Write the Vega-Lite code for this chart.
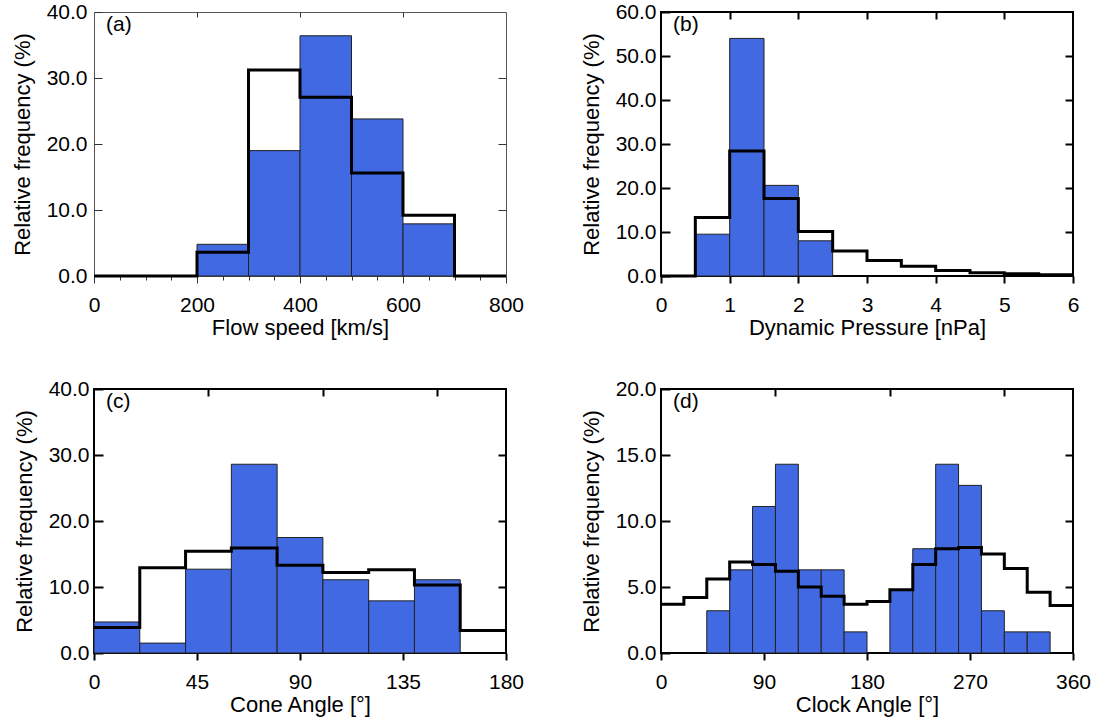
{
  "$schema": "https://vega.github.io/schema/vega-lite/v6.json",
  "padding": {"left": 10, "top": 0, "right": 5, "bottom": 5},
  "background": "white",
  "datasets": {
    "a_bars": [
      {"lo": 200, "hi": 300, "freq": 4.8},
      {"lo": 300, "hi": 400, "freq": 19.0},
      {"lo": 400, "hi": 500, "freq": 36.4},
      {"lo": 500, "hi": 600, "freq": 23.8},
      {"lo": 600, "hi": 700, "freq": 7.9}
    ],
    "a_step": [
      {"edge": 0, "freq": 0},
      {"edge": 100, "freq": 0},
      {"edge": 200, "freq": 3.6},
      {"edge": 300, "freq": 31.2},
      {"edge": 400, "freq": 27.1},
      {"edge": 500, "freq": 15.6},
      {"edge": 600, "freq": 9.2},
      {"edge": 700, "freq": 0},
      {"edge": 800, "freq": 0}
    ],
    "b_bars": [
      {"lo": 0.5, "hi": 1.0, "freq": 9.5},
      {"lo": 1.0, "hi": 1.5, "freq": 54.0},
      {"lo": 1.5, "hi": 2.0, "freq": 20.6},
      {"lo": 2.0, "hi": 2.5, "freq": 8.0}
    ],
    "b_step": [
      {"edge": 0, "freq": 0},
      {"edge": 0.5, "freq": 13.3},
      {"edge": 1.0, "freq": 28.4},
      {"edge": 1.5, "freq": 17.6},
      {"edge": 2.0, "freq": 10.1},
      {"edge": 2.5, "freq": 5.7},
      {"edge": 3.0, "freq": 3.5},
      {"edge": 3.5, "freq": 2.2},
      {"edge": 4.0, "freq": 1.25},
      {"edge": 4.5, "freq": 0.75},
      {"edge": 5.0, "freq": 0.5},
      {"edge": 5.5, "freq": 0.3},
      {"edge": 6.0, "freq": 0.3}
    ],
    "c_bars": [
      {"lo": 0, "hi": 20, "freq": 4.7},
      {"lo": 20, "hi": 40, "freq": 1.5},
      {"lo": 40, "hi": 60, "freq": 12.7},
      {"lo": 60, "hi": 80, "freq": 28.6},
      {"lo": 80, "hi": 100, "freq": 17.5},
      {"lo": 100, "hi": 120, "freq": 11.1},
      {"lo": 120, "hi": 140, "freq": 7.9},
      {"lo": 140, "hi": 160, "freq": 11.1}
    ],
    "c_step": [
      {"edge": 0, "freq": 3.85},
      {"edge": 20, "freq": 12.9},
      {"edge": 40, "freq": 15.4},
      {"edge": 60, "freq": 15.9},
      {"edge": 80, "freq": 13.3},
      {"edge": 100, "freq": 12.2},
      {"edge": 120, "freq": 12.6},
      {"edge": 140, "freq": 10.3},
      {"edge": 160, "freq": 3.4},
      {"edge": 180, "freq": 3.4}
    ],
    "d_bars": [
      {"lo": 40, "hi": 60, "freq": 3.2},
      {"lo": 60, "hi": 80, "freq": 6.3},
      {"lo": 80, "hi": 100, "freq": 11.1},
      {"lo": 100, "hi": 120, "freq": 14.3},
      {"lo": 120, "hi": 140, "freq": 6.3},
      {"lo": 140, "hi": 160, "freq": 6.3},
      {"lo": 160, "hi": 180, "freq": 1.6},
      {"lo": 200, "hi": 220, "freq": 4.8},
      {"lo": 220, "hi": 240, "freq": 7.9},
      {"lo": 240, "hi": 260, "freq": 14.3},
      {"lo": 260, "hi": 280, "freq": 12.7},
      {"lo": 280, "hi": 300, "freq": 3.2},
      {"lo": 300, "hi": 320, "freq": 1.6},
      {"lo": 320, "hi": 340, "freq": 1.6}
    ],
    "d_step": [
      {"edge": 0, "freq": 3.7},
      {"edge": 20, "freq": 4.2},
      {"edge": 40, "freq": 5.6},
      {"edge": 60, "freq": 6.9},
      {"edge": 80, "freq": 6.7},
      {"edge": 100, "freq": 6.2},
      {"edge": 120, "freq": 5.0},
      {"edge": 140, "freq": 4.3},
      {"edge": 160, "freq": 3.7},
      {"edge": 180, "freq": 3.9},
      {"edge": 200, "freq": 4.8},
      {"edge": 220, "freq": 6.7},
      {"edge": 240, "freq": 7.9},
      {"edge": 260, "freq": 8.0},
      {"edge": 280, "freq": 7.5},
      {"edge": 300, "freq": 6.4},
      {"edge": 320, "freq": 4.6},
      {"edge": 340, "freq": 3.6},
      {"edge": 360, "freq": 3.6}
    ]
  },
  "columns": 2,
  "spacing": {"row": 38, "column": 54},
  "concat": [
    {
      "width": 412, "height": 264,
      "view": {"stroke": "#555", "strokeWidth": 1},
      "title": {"text": "(a)", "anchor": "start", "frame": "group", "orient": "top", "offset": -51, "dx": 12, "fontSize": 21, "fontWeight": "normal", "font": "Liberation Sans", "baseline": "alphabetic", "color": "black"},
      "layer": [
        {
          "data": {"name": "a_bars"},
          "mark": {"type": "bar", "fill": "#4169E1", "stroke": "#222", "strokeWidth": 1},
          "encoding": {
            "x": {"field": "lo", "type": "quantitative", "scale": {"domain": [0, 800], "nice": false, "zero": false},
              "axis": {"orient": "bottom", "title": "Flow speed [km/s]", "values": [0,50,100,150,200,250,300,350,400,450,500,550,600,650,700,750,800], "format": "d", "labelExpr": "datum.value % 200 === 0 ? datum.label : ''", "tickSize": {"condition": {"test": "datum.value % 200 === 0", "value": 7}, "value": 4}, "tickColor": "#333", "tickWidth": 1, "labelPadding": 11, "titlePadding": 2, "labelFlush": false, "labelOverlap": false}},
            "x2": {"field": "hi"},
            "y": {"field": "freq", "type": "quantitative", "scale": {"domain": [0, 40], "nice": false},
              "axis": {"orient": "left", "title": "Relative frequency (%)", "values": [0,10,20,30,40], "format": ".1f", "tickSize": -8, "tickColor": "#333", "tickWidth": 1, "labelPadding": 15, "titlePadding": 12}},
            "y2": {"datum": 0}
          }
        },
        {
          "data": {"name": "a_step"},
          "mark": {"type": "line", "interpolate": "step-after", "stroke": "black", "strokeWidth": 3},
          "encoding": {
            "x": {"field": "edge", "type": "quantitative", "axis": {"orient": "top", "title": null, "values": [200,400,600], "labels": false, "tickSize": -5, "tickColor": "#333", "tickWidth": 1}},
            "y": {"field": "freq", "type": "quantitative", "axis": {"orient": "right", "title": null, "values": [10,20,30], "labels": false, "tickSize": -8, "tickColor": "#333", "tickWidth": 1}}
          }
        }
      ],
      "resolve": {"axis": {"x": "independent", "y": "independent"}}
    },
    {
      "width": 412, "height": 264,
      "view": {"stroke": "black", "strokeWidth": 2},
      "title": {"text": "(b)", "anchor": "start", "frame": "group", "orient": "top", "offset": -51, "dx": 12, "fontSize": 21, "fontWeight": "normal", "font": "Liberation Sans", "baseline": "alphabetic", "color": "black"},
      "layer": [
        {
          "data": {"name": "b_bars"},
          "mark": {"type": "bar", "fill": "#4169E1", "stroke": "#222", "strokeWidth": 1},
          "encoding": {
            "x": {"field": "lo", "type": "quantitative", "scale": {"domain": [0, 6], "nice": false, "zero": false},
              "axis": {"orient": "bottom", "title": "Dynamic Pressure [nPa]", "values": [0,0.0625,0.125,0.1875,0.25,0.3125,0.375,0.4375,0.5,0.5625,0.625,0.6875,0.75,0.8125,0.875,0.9375,1,1.0625,1.125,1.1875,1.25,1.3125,1.375,1.4375,1.5,1.5625,1.625,1.6875,1.75,1.8125,1.875,1.9375,2,2.0625,2.125,2.1875,2.25,2.3125,2.375,2.4375,2.5,2.5625,2.625,2.6875,2.75,2.8125,2.875,2.9375,3,3.0625,3.125,3.1875,3.25,3.3125,3.375,3.4375,3.5,3.5625,3.625,3.6875,3.75,3.8125,3.875,3.9375,4,4.0625,4.125,4.1875,4.25,4.3125,4.375,4.4375,4.5,4.5625,4.625,4.6875,4.75,4.8125,4.875,4.9375,5,5.0625,5.125,5.1875,5.25,5.3125,5.375,5.4375,5.5,5.5625,5.625,5.6875,5.75,5.8125,5.875,5.9375,6], "format": "d", "labelExpr": "datum.value % 1 === 0 ? datum.label : ''", "tickSize": 7, "tickDash": {"condition": {"test": "datum.value % 1 === 0", "value": [7, 0]}, "value": [0, 4, 2.5, 20]}, "tickColor": "black", "tickWidth": {"condition": {"test": "datum.value % 1 === 0", "value": 2}, "value": 2.6}, "labelPadding": 11, "titlePadding": 2, "labelFlush": false, "labelOverlap": false}},
            "x2": {"field": "hi"},
            "y": {"field": "freq", "type": "quantitative", "scale": {"domain": [0, 60], "nice": false},
              "axis": {"orient": "left", "title": "Relative frequency (%)", "values": [0,10,20,30,40,50,60], "format": ".1f", "tickSize": -9, "tickColor": "black", "tickWidth": 2, "labelPadding": 14, "titlePadding": 12}},
            "y2": {"datum": 0}
          }
        },
        {
          "data": {"name": "b_step"},
          "mark": {"type": "line", "interpolate": "step-after", "stroke": "black", "strokeWidth": 3},
          "encoding": {
            "x": {"field": "edge", "type": "quantitative", "axis": {"orient": "top", "title": null, "values": [1,2,3,4,5], "labels": false, "tickSize": -7, "tickColor": "black", "tickWidth": 2}},
            "y": {"field": "freq", "type": "quantitative", "axis": {"orient": "right", "title": null, "values": [10,20,30,40,50], "labels": false, "tickSize": -8, "tickColor": "black", "tickWidth": 2}}
          }
        }
      ],
      "resolve": {"axis": {"x": "independent", "y": "independent"}}
    },
    {
      "width": 412, "height": 264,
      "view": {"stroke": "black", "strokeWidth": 2},
      "title": {"text": "(c)", "anchor": "start", "frame": "group", "orient": "top", "offset": -51, "dx": 12, "fontSize": 21, "fontWeight": "normal", "font": "Liberation Sans", "baseline": "alphabetic", "color": "black"},
      "layer": [
        {
          "data": {"name": "c_bars"},
          "mark": {"type": "bar", "fill": "#4169E1", "stroke": "#222", "strokeWidth": 1},
          "encoding": {
            "x": {"field": "lo", "type": "quantitative", "scale": {"domain": [0, 180], "nice": false, "zero": false},
              "axis": {"orient": "bottom", "title": "Cone Angle [°]", "values": [0,45,90,135,180], "format": "d", "tickSize": 7, "tickColor": "black", "tickWidth": 2, "labelPadding": 11, "titlePadding": 2, "labelFlush": false, "labelOverlap": false}},
            "x2": {"field": "hi"},
            "y": {"field": "freq", "type": "quantitative", "scale": {"domain": [0, 40], "nice": false},
              "axis": {"orient": "left", "title": "Relative frequency (%)", "values": [0,10,20,30,40], "format": ".1f", "tickSize": -9, "tickColor": "black", "tickWidth": 2, "labelPadding": 14, "titlePadding": 12}},
            "y2": {"datum": 0}
          }
        },
        {
          "data": {"name": "c_step"},
          "mark": {"type": "line", "interpolate": "step-after", "stroke": "black", "strokeWidth": 3},
          "encoding": {
            "x": {"field": "edge", "type": "quantitative", "axis": {"orient": "top", "title": null, "values": [50,100,150], "labels": false, "tickSize": -7, "tickColor": "black", "tickWidth": 2}},
            "y": {"field": "freq", "type": "quantitative", "axis": {"orient": "right", "title": null, "values": [10,20,30], "labels": false, "tickSize": -8, "tickColor": "black", "tickWidth": 2}}
          }
        }
      ],
      "resolve": {"axis": {"x": "independent", "y": "independent"}}
    },
    {
      "width": 412, "height": 264,
      "view": {"stroke": "black", "strokeWidth": 2},
      "title": {"text": "(d)", "anchor": "start", "frame": "group", "orient": "top", "offset": -51, "dx": 12, "fontSize": 21, "fontWeight": "normal", "font": "Liberation Sans", "baseline": "alphabetic", "color": "black"},
      "layer": [
        {
          "data": {"name": "d_bars"},
          "mark": {"type": "bar", "fill": "#4169E1", "stroke": "#222", "strokeWidth": 1},
          "encoding": {
            "x": {"field": "lo", "type": "quantitative", "scale": {"domain": [0, 360], "nice": false, "zero": false},
              "axis": {"orient": "bottom", "title": "Clock Angle [°]", "values": [0,90,180,270,360], "format": "d", "tickSize": 7, "tickColor": "black", "tickWidth": 2, "labelPadding": 11, "titlePadding": 2, "labelFlush": false, "labelOverlap": false}},
            "x2": {"field": "hi"},
            "y": {"field": "freq", "type": "quantitative", "scale": {"domain": [0, 20], "nice": false},
              "axis": {"orient": "left", "title": "Relative frequency (%)", "values": [0,5,10,15,20], "format": ".1f", "tickSize": -9, "tickColor": "black", "tickWidth": 2, "labelPadding": 14, "titlePadding": 12}},
            "y2": {"datum": 0}
          }
        },
        {
          "data": {"name": "d_step"},
          "mark": {"type": "line", "interpolate": "step-after", "stroke": "black", "strokeWidth": 3},
          "encoding": {
            "x": {"field": "edge", "type": "quantitative", "axis": {"orient": "top", "title": null, "values": [100,200,300], "labels": false, "tickSize": -7, "tickColor": "black", "tickWidth": 2}},
            "y": {"field": "freq", "type": "quantitative", "axis": {"orient": "right", "title": null, "values": [5,10,15], "labels": false, "tickSize": -8, "tickColor": "black", "tickWidth": 2}}
          }
        }
      ],
      "resolve": {"axis": {"x": "independent", "y": "independent"}}
    }
  ],
  "config": {
    "font": "Liberation Sans",
    "axis": {"ticks": true, "domain": false, "zindex": 1, "tickOpacity": 1, "labelFont": "Liberation Sans", "labelFontSize": 21, "labelColor": "black", "titleFont": "Liberation Sans", "titleFontSize": 22, "titleFontWeight": "normal", "titleColor": "black", "grid": false}
  }
}
